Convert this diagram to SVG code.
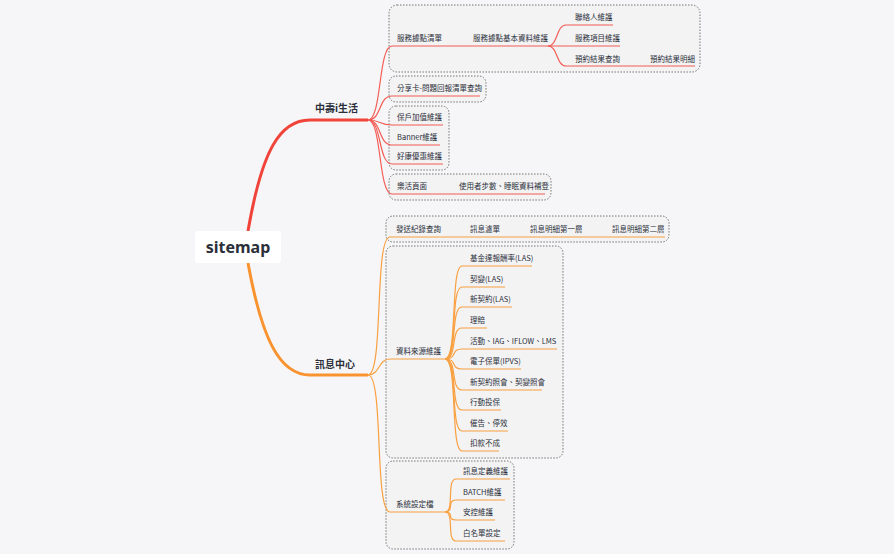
<svg xmlns="http://www.w3.org/2000/svg" width="894" height="554" viewBox="0 0 894 554">
<style>
text{font-family:"Noto Sans CJK TC","Noto Sans",sans-serif;fill:#2b2f3a}
.s{font-size:7.5px}
.b{font-size:10px;font-weight:bold}
.r{fill:none;stroke:#f25d55;stroke-width:1.2}
.o{fill:none;stroke:#f9a040;stroke-width:1.2}
.box{fill:#f3f3f4;stroke:#666;stroke-width:0.9;stroke-dasharray:1.5 1.5}
</style>
<rect width="894" height="554" fill="#f6f6f8"/>
<g id="boxes">
<rect class="box" x="389" y="5" width="311" height="67" rx="8"/>
<rect class="box" x="389" y="76" width="97" height="26" rx="7"/>
<rect class="box" x="389" y="106" width="60" height="64" rx="7"/>
<rect class="box" x="389" y="174" width="162" height="26" rx="7"/>
<rect class="box" x="386" y="216" width="283" height="26" rx="7"/>
<rect class="box" x="386" y="246" width="177" height="212" rx="7"/>
<rect class="box" x="386" y="461" width="128" height="88" rx="7"/>
</g>
<g id="connectors">
<path d="M248,231 C262,150 280,120 310,120 L368,120" fill="none" stroke="#f0443a" stroke-width="3"/>
<path d="M248,263 C262,340 280,375 310,375 L368,375" fill="none" stroke="#f99330" stroke-width="3"/>
<path class="r" d="M368,120 C382,120 378,46 392,46 H548"/>
<path class="r" d="M548,46 C558,46 556,25 566,25 H613"/>
<path class="r" d="M548,46 H620"/>
<path class="r" d="M548,46 C558,46 556,66 566,66 H695"/>
<path class="r" d="M368,120 C382,120 378,96 392,96 H480"/>
<path class="r" d="M368,120 C382,120 378,125 392,125 H443"/>
<path class="r" d="M368,120 C382,120 378,145 392,145 H440"/>
<path class="r" d="M368,120 C382,120 378,164 392,164 H443"/>
<path class="r" d="M368,120 C382,120 378,194 392,194 H545"/>
<path class="o" d="M368,375 C384,375 374,237 390,237 H665"/>
<path class="o" d="M368,375 C380,375 378,359 390,359 H445"/>
<path class="o" d="M368,375 C384,375 374,512 390,512 H445"/>
<g class="o">
<path d="M445,359 C458,359 450,266 462,266 H532"/>
<path d="M445,359 C458,359 450,287 462,287 H505"/>
<path d="M445,359 C458,359 450,307 462,307 H512"/>
<path d="M445,359 C458,359 450,328 462,328 H487"/>
<path d="M445,359 C458,359 450,349 462,349 H557"/>
<path d="M445,359 C458,359 450,369 462,369 H521"/>
<path d="M445,359 C458,359 450,390 462,390 H542"/>
<path d="M445,359 C458,359 450,410 462,410 H501"/>
<path d="M445,359 C458,359 450,431 462,431 H508"/>
<path d="M445,359 C458,359 450,451 462,451 H499"/>
<path d="M445,512 C455,512 446,479 456,479 H510"/>
<path d="M445,512 C455,512 446,500 456,500 H505"/>
<path d="M445,512 C455,512 446,520 456,520 H495"/>
<path d="M445,512 C455,512 446,541 456,541 H505"/>
</g>
</g>
<g id="root"><rect x="195" y="231" width="86" height="32" rx="3" fill="#fff"/><text x="238" y="253" text-anchor="middle" style="font-size:16px;font-weight:bold;font-family:'Noto Sans',sans-serif">sitemap</text></g>
<g id="b1"><text class="b" x="315" y="112">中壽i生活</text></g>
<g id="b2"><text class="b" x="315" y="368">訊息中心</text></g>
<g id="labels" class="s">
<text class="s" x="397" y="41">服務據點清單</text>
<text class="s" x="473" y="41">服務據點基本資料維護</text>
<text class="s" x="575" y="20">聯絡人維護</text>
<text class="s" x="575" y="41">服務項目維護</text>
<text class="s" x="575" y="62">預約結果查詢</text>
<text class="s" x="650" y="62">預約結果明細</text>
<text class="s" x="397" y="91">分享卡-問題回報清單查詢</text>
<text class="s" x="397" y="120">保戶加值維護</text>
<text class="s" x="397" y="140">Banner維護</text>
<text class="s" x="397" y="159">好康優惠維護</text>
<text class="s" x="397" y="189">樂活頁面</text>
<text class="s" x="459" y="189">使用者步數、睡眠資料補登</text>
<text class="s" x="396" y="232">發送紀錄查詢</text>
<text class="s" x="470" y="232">訊息濾單</text>
<text class="s" x="530" y="232">訊息明細第一層</text>
<text class="s" x="612" y="232">訊息明細第二層</text>
<text class="s" x="396" y="354">資料來源維護</text>
<text class="s" x="470" y="261">基金達報酬率(LAS)</text>
<text class="s" x="470" y="282">契變(LAS)</text>
<text class="s" x="470" y="302">新契約(LAS)</text>
<text class="s" x="470" y="323">理賠</text>
<text class="s" x="470" y="344">活動、IAG、IFLOW、LMS</text>
<text class="s" x="470" y="364">電子保單(IPVS)</text>
<text class="s" x="470" y="385">新契約照會、契變照會</text>
<text class="s" x="470" y="405">行動投保</text>
<text class="s" x="470" y="426">催告、停效</text>
<text class="s" x="470" y="446">扣款不成</text>
<text class="s" x="396" y="507">系統設定檔</text>
<text class="s" x="463" y="474">訊息定義維護</text>
<text class="s" x="463" y="495">BATCH維護</text>
<text class="s" x="463" y="515">安控維護</text>
<text class="s" x="463" y="536">白名單設定</text>
</g>
</svg>
